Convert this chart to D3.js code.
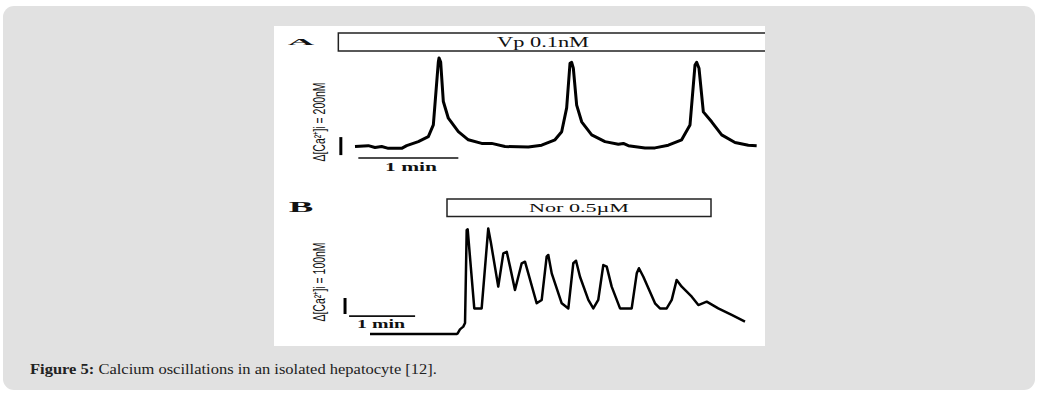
<!DOCTYPE html>
<html>
<head>
<meta charset="utf-8">
<script src="https://cdn.jsdelivr.net/npm/d3@7"></script>
<style>
  html, body { margin: 0; padding: 0; background: #ffffff; }
  svg { display: block; }
</style>
</head>
<body>
<div id="my_dataviz"></div>
<script>
// Panel A: vasopressin 0.1nM, time (s) and Δ[Ca2+]i (nM)
const timeA = [0, 8, 12, 16, 20, 28, 31, 38, 44, 47, 50, 50.4, 51.4, 53, 56, 62, 68, 76, 82, 90,
  104, 112, 120, 124, 127, 129, 130, 131, 133, 136, 142, 150, 158, 161, 164, 174, 180, 188, 196,
  201, 204, 205, 206.4, 209, 214, 220, 228, 236, 241]
const caA = [5, 15, -5, 5, -15, -15, 15, 60, 115, 245, 945, 990, 945, 505, 320, 170, 80, 40, 40, 5,
  0, 20, 80, 170, 435, 930, 940, 875, 465, 280, 135, 60, 30, 40, 15, -10, -10, 20, 80,
  245, 910, 940, 875, 390, 280, 135, 50, 20, 15]

// Panel B: noradrenaline 0.5µM
const timeB = [0, 78.8, 79.7, 81.8, 84.8, 86.4, 87.9, 88.8, 94.8, 101.5, 107.5, 110, 116.6, 121.2,
  124.3, 127.3, 131.8, 137.9, 140.9, 143.9, 151.5, 156.1, 160.6, 162.1, 165.2, 174.3, 180.3, 184.8,
  187.3, 190.9, 198.5, 203, 207.5, 212.1, 215.2, 219.7, 227.3, 237.9, 242.5, 244.5, 248.5, 259.1,
  263.6, 269.7, 274.3, 278.8, 283.4, 292.5, 298.5, 306.1, 316.6, 328.8, 340.9]
const caB = [0, 0, 4, 29, 46, 69, 650, 654, 160, 160, 660, 567, 296, 504,
  514, 421, 275, 442, 452, 379, 192, 213, 483, 494, 379, 192, 160, 442,
  458, 358, 213, 160, 213, 431, 421, 296, 160, 160, 379, 411, 358, 192,
  160, 160, 213, 338, 296, 233, 181, 202, 160, 119, 77]

const panelLabels = ["A", "B"]
const drugLabels = ["Vp 0.1nM", "Nor 0.5\u00B5M"]
const yLabels = ["\u0394[Ca\u00B2\u207A]i = 200nM", "\u0394[Ca\u00B2\u207A]i = 100nM"]
const caScaleBars = [200, 100]   // nM
const timeScaleBar = 60          // s
const caption = ["Figure 5:", " Calcium oscillations in an isolated hepatocyte [12]."]

const W = 1041, H = 396
const svg = d3.select("#my_dataviz")
  .append("svg")
  .attr("width", W)
  .attr("height", H)

// card + figure area
svg.append("rect")
  .attr("x", 3).attr("y", 6).attr("width", 1032).attr("height", 384)
  .attr("rx", 11).attr("fill", "#e1e1e1")
svg.append("rect")
  .attr("x", 274).attr("y", 26).attr("width", 491).attr("height", 320)
  .attr("fill", "#ffffff")
svg.append("clipPath").attr("id", "figclip")
  .append("rect").attr("x", 274).attr("y", 26).attr("width", 491).attr("height", 320)

const fig = svg.append("g").attr("clip-path", "url(#figclip)")

// scales: A -> 1 min = 100px, 200nM = 18px ; B -> 1 min = 66px, 100nM = 16px
const xA = d3.scaleLinear().domain([0, 60]).range([355, 455])
const yA = d3.scaleLinear().domain([0, 200]).range([147, 129])
const xB = d3.scaleLinear().domain([0, 60]).range([370, 436])
const yB = d3.scaleLinear().domain([0, 100]).range([334, 318])

const panels = [
  { x: xA, y: yA, t: timeA, v: caA, box: [-10, 270], boxY: [33, 51], lw: 3,
    lab: [301, 45, 0.55], vbar: [-8.5, -90], hbar: [2, -122],
    drug: [543, 92, 14], minLab: [411, 171, 52], yLab: [319, 122] },
  { x: xB, y: yB, t: timeB, v: caB, box: [70, 310], boxY: [199, 216.5], lw: 2.5,
    lab: [301, 212, 0.9], vbar: [-22.7, 125], hbar: [-19, 112],
    drug: [579, 100, 13.5], minLab: [381, 328, 48], yLab: [319, 282] }
]

panels.forEach((p, i) => {
  const g = fig.append("g")

  // panel letter (squashed, as in the scanned figure)
  g.append("text")
    .attr("transform", `translate(${p.lab[0]},${p.lab[1]}) scale(2.3,${p.lab[2]})`)
    .attr("text-anchor", "middle")
    .style("font-family", "'Liberation Serif', serif")
    .style("font-weight", "bold")
    .style("font-size", "16px")
    .attr("fill", "#111")
    .text(panelLabels[i])

  // drug application bar
  const bx0 = p.x(p.box[0]), bx1 = p.x(p.box[1])
  g.append("rect")
    .attr("x", bx0).attr("y", p.boxY[0])
    .attr("width", bx1 - bx0).attr("height", p.boxY[1] - p.boxY[0])
    .attr("fill", "none").attr("stroke", "#222").attr("stroke-width", 1.5)
  g.append("text")
    .attr("x", p.drug[0])
    .attr("y", (p.boxY[0] + p.boxY[1]) / 2 + 4.5)
    .attr("text-anchor", "middle")
    .attr("textLength", p.drug[1])
    .attr("lengthAdjust", "spacingAndGlyphs")
    .style("font-family", "'Liberation Serif', serif")
    .style("font-size", p.drug[2] + "px")
    .attr("fill", "#111")
    .text(drugLabels[i])

  // trace
  const pts = p.t.map((t, k) => [t, p.v[k]])
  g.append("path")
    .datum(pts)
    .attr("fill", "none")
    .attr("stroke", "#000")
    .attr("stroke-width", p.lw)
    .attr("stroke-linejoin", "round")
    .attr("d", d3.line().x(d => p.x(d[0])).y(d => p.y(d[1])))

  // calcium scale bar
  g.append("line")
    .attr("x1", p.x(p.vbar[0])).attr("x2", p.x(p.vbar[0]))
    .attr("y1", p.y(p.vbar[1])).attr("y2", p.y(p.vbar[1] + caScaleBars[i]))
    .attr("stroke", "#000").attr("stroke-width", 3)

  // time scale bar
  g.append("line")
    .attr("x1", p.x(p.hbar[0])).attr("x2", p.x(p.hbar[0] + timeScaleBar))
    .attr("y1", p.y(p.hbar[1])).attr("y2", p.y(p.hbar[1]))
    .attr("stroke", "#111").attr("stroke-width", 1.6)

  g.append("text")
    .attr("x", p.minLab[0]).attr("y", p.minLab[1])
    .attr("text-anchor", "middle")
    .attr("textLength", p.minLab[2])
    .attr("lengthAdjust", "spacingAndGlyphs")
    .style("font-family", "'Liberation Serif', serif")
    .style("font-weight", "bold")
    .style("font-size", "12px")
    .attr("fill", "#111")
    .text("1 min")

  // rotated calcium label
  g.append("text")
    .attr("transform", `translate(${p.yLab[0] + 6},${p.yLab[1]}) rotate(-90)`)
    .attr("text-anchor", "middle")
    .attr("textLength", 79)
    .attr("lengthAdjust", "spacingAndGlyphs")
    .style("font-family", "'Liberation Sans', sans-serif")
    .style("font-size", "16px")
    .attr("fill", "#111")
    .text(yLabels[i])
})

// caption
const cap = svg.append("text")
  .attr("x", 30).attr("y", 374)
  .attr("textLength", 407)
  .attr("lengthAdjust", "spacingAndGlyphs")
  .style("font-family", "'Liberation Serif', serif")
  .style("font-size", "15px")
  .attr("fill", "#222")
cap.append("tspan").style("font-weight", "bold").text(caption[0])
cap.append("tspan").text(caption[1])
</script>
</body>
</html>
